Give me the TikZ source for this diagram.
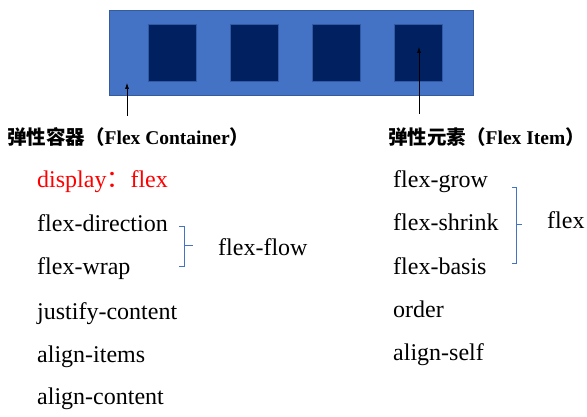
\documentclass[tikz,border=0pt]{standalone}
\usepackage{fontspec}
\setmainfont{Liberation Serif}
\newfontfamily\cjk{Noto Sans CJK SC}
\usetikzlibrary{arrows.meta}
\definecolor{flexblue}{HTML}{4472C4}
\definecolor{flexnavy}{HTML}{002060}
\begin{document}
\begin{tikzpicture}[x=1pt, y=-1pt,
    container/.style={rectangle, draw=flexblue!80!black, fill=flexblue, line width=0.6pt, minimum width=364pt, minimum height=85pt, inner sep=0pt},
    item/.style={rectangle, draw=flexblue!70!flexnavy, fill=flexnavy, line width=0.5pt, minimum width=48pt, minimum height=57pt, inner sep=0pt},
    head/.style={anchor=base west, inner sep=0pt, font=\fontsize{19.5}{22}\selectfont\bfseries},
    prop/.style={anchor=base west, inner sep=0pt, font=\fontsize{24}{26}\selectfont},
    brace/.style={draw=flexblue, line width=0.8pt},
    pointer/.style={draw=black, line width=0.6pt, -{Latex[length=6pt, width=4pt]}}
]
    \useasboundingbox (0,0) rectangle (587,417);
    % --- container and items ---
    \node[container] (box) at (291,52.5) {};
    \foreach \i in {1,...,4}
        \node[item] (item\i) at ({172+82*(\i-1)},52.5) {};

    % --- pointers ---
    \coordinate (c0) at (127,116); \coordinate (c1) at (127,83);
    \coordinate (i0) at (419,114); \coordinate (i1) at (419,47);
    \draw[pointer] (c0) -- (c1);
    \draw[pointer] (i0) -- (i1);

    % --- left column: container ---
    \node[head] (hcont) at (7,145) {{\cjk 弹性容器（}Flex Container{\cjk ）}};
    \node[prop, text=red] (display) at (37,188) {display{\cjk ：}flex};
    \node[prop] (direction) at (37,232) {flex-direction};
    \node[prop] (wrap) at (37,275) {flex-wrap};
    \node[prop] (justify) at (37,319) {justify-content};
    \node[prop] (aitems) at (37,362) {align-items};
    \node[prop] (acontent) at (37,404) {align-content};
    \node[prop] (flow) at (218,255) {flex-flow};
    \draw[brace] (179,226) -- (184,226) -- (184,266) -- (179,266)
                 (184,245) -- (193,245);

    % --- right column: item ---
    \node[head] (hitem) at (388,145) {{\cjk 弹性元素（}Flex Item{\cjk ）}};
    \node[prop] (grow) at (393,188) {flex-grow};
    \node[prop] (shrink) at (393,231) {flex-shrink};
    \node[prop] (basis) at (393,275) {flex-basis};
    \node[prop] (order) at (393,317) {order};
    \node[prop] (aself) at (393,360) {align-self};
    \node[prop] (flex) at (547,229) {flex};
    \draw[brace] (512,187) -- (516,187) -- (516,263) -- (512,263)
                 (516,224) -- (522,224);
\end{tikzpicture}
\end{document}
